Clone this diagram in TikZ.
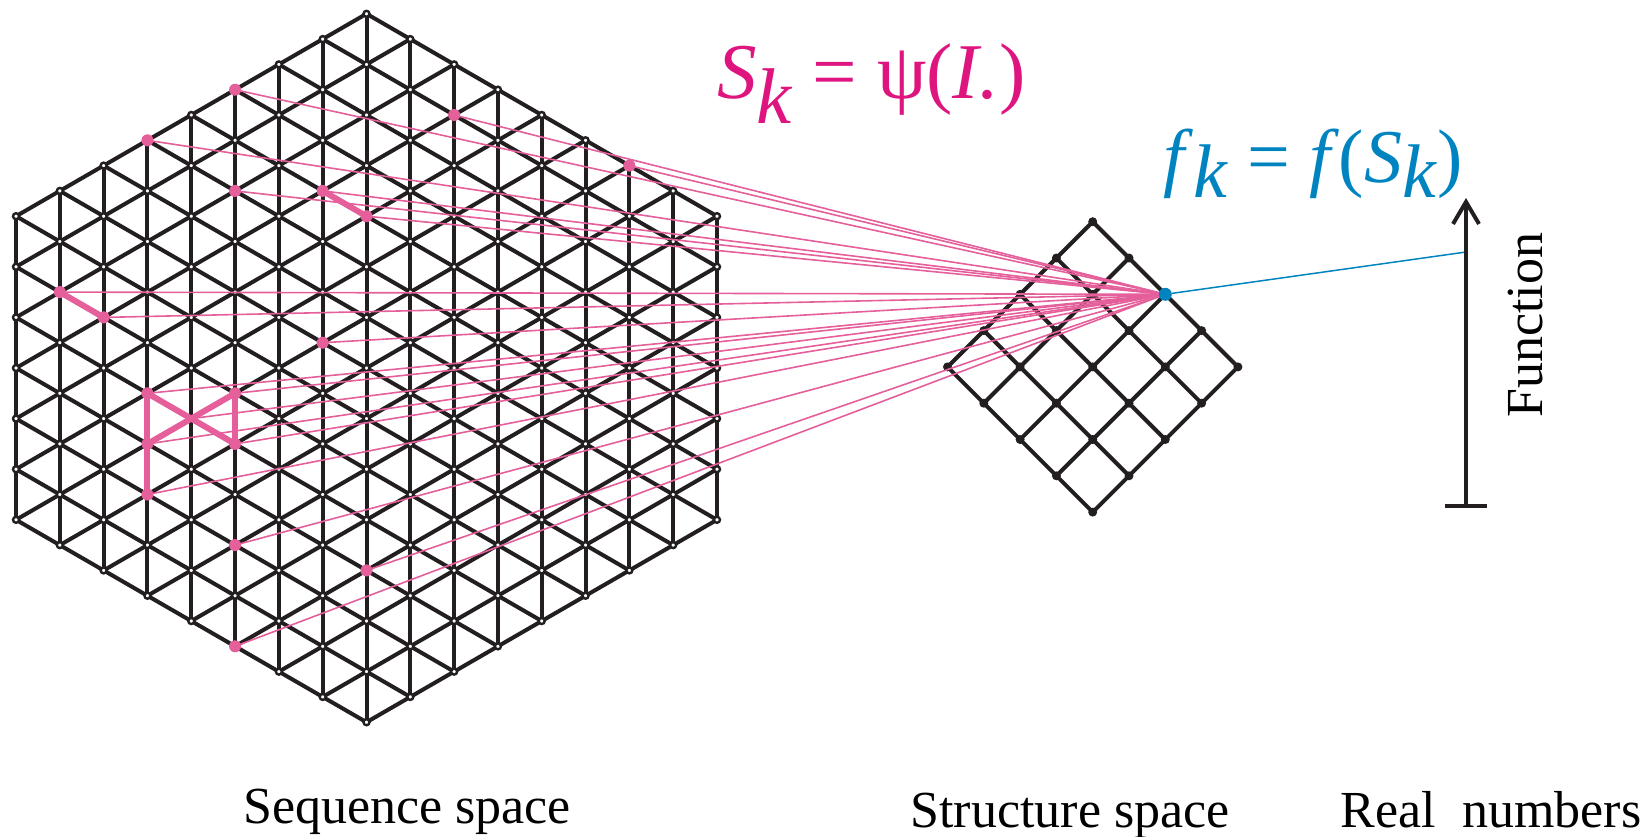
\documentclass[tikz,border=0pt]{standalone}
\usepackage{fontspec}
\setmainfont{LiberationSerif}[
    Extension=.ttf,
    UprightFont=*-Regular,
    ItalicFont=*-Italic,
    BoldFont=*-Bold,
    BoldItalicFont=*-BoldItalic]
\usetikzlibrary{arrows.meta}

\definecolor{latblack}{RGB}{35,31,32}
\definecolor{seqpink}{RGB}{229,96,155}
\definecolor{labmagenta}{RGB}{222,20,127}
\definecolor{fitblue}{RGB}{0,132,192}

\begin{document}
\begin{tikzpicture}[x=0.5pt,y=-0.5pt,
        lattice/.style={draw=latblack,line width=2pt,line cap=round,line join=round},
        site/.style={circle,draw=latblack,fill=white,line width=1.2pt,minimum size=3pt,inner sep=0pt},
        knot/.style={circle,fill=latblack,minimum size=4.5pt,inner sep=0pt},
        hit/.style={circle,fill=seqpink,minimum size=6pt,inner sep=0pt},
        map/.style={draw=seqpink,line width=0.8pt},
        link/.style={draw=seqpink,line width=3pt,line cap=round,line join=round},
        lab/.style={font=\fontsize{26}{30}\selectfont,inner sep=0pt}]

    \useasboundingbox (0,0) rectangle (1652,836);

    % Sequence space: lattice points
    \foreach \i in {-8,...,8}{
        \pgfmathtruncatemacro\col{\i+8}
        \pgfmathtruncatemacro\mlo{-14+abs(\i)}
        \pgfmathtruncatemacro\mnx{\mlo+2}
        \pgfmathtruncatemacro\mhi{14-abs(\i)}
        \foreach \m in {\mlo,\mnx,...,\mhi}{
            \pgfmathtruncatemacro\row{\m+14}
            \coordinate (h-\col-\row) at ({366.5+43.81*\i},{368+25.3*\m});
        }
    }

    % Sequence space: vertical lines
    \foreach \i in {-8,...,8}{
        \pgfmathtruncatemacro\col{\i+8}
        \pgfmathtruncatemacro\rlo{abs(\i)}
        \pgfmathtruncatemacro\rhi{28-abs(\i)}
        \draw[lattice] (h-\col-\rlo) -- (h-\col-\rhi);
    }

    % Sequence space: rising lines
    \foreach \kk in {-14,-12,...,14}{
        \pgfmathtruncatemacro\ia{max(-8,(\kk-14)/2)}
        \pgfmathtruncatemacro\ib{min(8,(\kk+14)/2)}
        \pgfmathtruncatemacro\ca{\ia+8}
        \pgfmathtruncatemacro\ra{\kk-(\ia)+14}
        \pgfmathtruncatemacro\cb{\ib+8}
        \pgfmathtruncatemacro\rb{\kk-(\ib)+14}
        \draw[lattice] (h-\ca-\ra) -- (h-\cb-\rb);
    }

    % Sequence space: falling lines
    \foreach \dd in {-14,-12,...,14}{
        \pgfmathtruncatemacro\ia{max(-8,-(\dd+14)/2)}
        \pgfmathtruncatemacro\ib{min(8,(14-(\dd))/2)}
        \pgfmathtruncatemacro\ca{\ia+8}
        \pgfmathtruncatemacro\ra{\dd+\ia+14}
        \pgfmathtruncatemacro\cb{\ib+8}
        \pgfmathtruncatemacro\rb{\dd+\ib+14}
        \draw[lattice] (h-\ca-\ra) -- (h-\cb-\rb);
    }

    % Sequence space: sites
    \foreach \i in {-8,...,8}{
        \pgfmathtruncatemacro\col{\i+8}
        \pgfmathtruncatemacro\rlo{abs(\i)}
        \pgfmathtruncatemacro\rnx{\rlo+2}
        \pgfmathtruncatemacro\rhi{28-abs(\i)}
        \foreach \row in {\rlo,\rnx,...,\rhi}
            \node[site] (hv-\col-\row) at (h-\col-\row) {};
    }

    % Structure space
    \foreach \x in {0,...,4}
        \foreach \y in {0,...,4}
            \coordinate (s-\x-\y) at ({1092.7+36.3*(\x-\y)},{221.7+36.3*(\x+\y)});
    \foreach \x in {0,...,4}{
        \draw[lattice] (s-\x-0) -- (s-\x-4);
        \draw[lattice] (s-0-\x) -- (s-4-\x);
    }
    \foreach \x in {0,...,4}
        \foreach \y in {0,...,4}
            \node[knot] (sv-\x-\y) at (s-\x-\y) {};

    % Mapping psi
    \foreach \i/\m in {-3/-11,-5/-9,2/-10,-3/-7,-1/-7,0/-6,6/-8,-7/-3,-6/-2,-1/-1,
                       -5/1,-3/1,-4/2,-5/3,-3/3,-5/5,-3/7,0/8,-3/11}{
        \pgfmathtruncatemacro\col{\i+8}
        \pgfmathtruncatemacro\row{\m+14}
        \draw[map] (h-\col-\row) -- (s-2-0);
    }

    % Neutral links
    \draw[link] (h-7-7) -- (h-8-8);
    \draw[link] (h-1-11) -- (h-2-12);
    \draw[link] (h-3-15) -- (h-3-19);
    \draw[link] (h-5-15) -- (h-5-17);
    \draw[link] (h-3-15) -- (h-4-16) -- (h-5-17);
    \draw[link] (h-5-15) -- (h-4-16) -- (h-3-17);

    \foreach \col/\row in {5/3,3/5,10/4,5/7,7/7,8/8,14/6,1/11,2/12,7/13,
                           3/15,5/15,3/17,5/17,3/19,5/21,8/22,5/25}
        \node[hit] (p-\col-\row) at (h-\col-\row) {};

    % Function axis
    \node[circle,fill=fitblue,minimum size=6.5pt,inner sep=0pt] (fk) at (s-2-0) {};
    \coordinate (axbot) at (1466,508);
    \coordinate (axtop) at (1466,198);
    \coordinate (fval) at (1466,252);
    \draw[fitblue,line width=0.75pt] (fk) -- (fval);
    \draw[latblack,line width=2pt,{Bar[width=21pt]}-{Straight Barb[length=11pt,width=13pt]}] (axbot) -- (axtop);

    % Labels
    \node[anchor=base west,inner sep=0pt,text=labmagenta,font=\fontsize{39.5}{42}\selectfont] (psilab) at (717,98)
        {\textit{S}\raisebox{-0.32em}{\textit{k}}\ =\ ψ(\textit{I.})};
    \node[anchor=base west,inner sep=0pt,text=fitblue,font=\fontsize{38}{42}\selectfont] (flab) at (1163,182)
        {\textit{f}\raisebox{-0.2em}{\textit{k}}\ =\ \textit{f}(\textit{S}\raisebox{-0.2em}{\textit{k}})};
    \node[lab,rotate=90,anchor=base] (funclab) at (1542,325) {Function};
    \node[lab,anchor=base] (seqlab) at (407,823) {Sequence space};
    \node[lab,anchor=base] (strlab) at (1070,827) {Structure space};
    \node[lab,anchor=base] (reallab) at (1491,827) {Real\ \ numbers};
\end{tikzpicture}
\end{document}
